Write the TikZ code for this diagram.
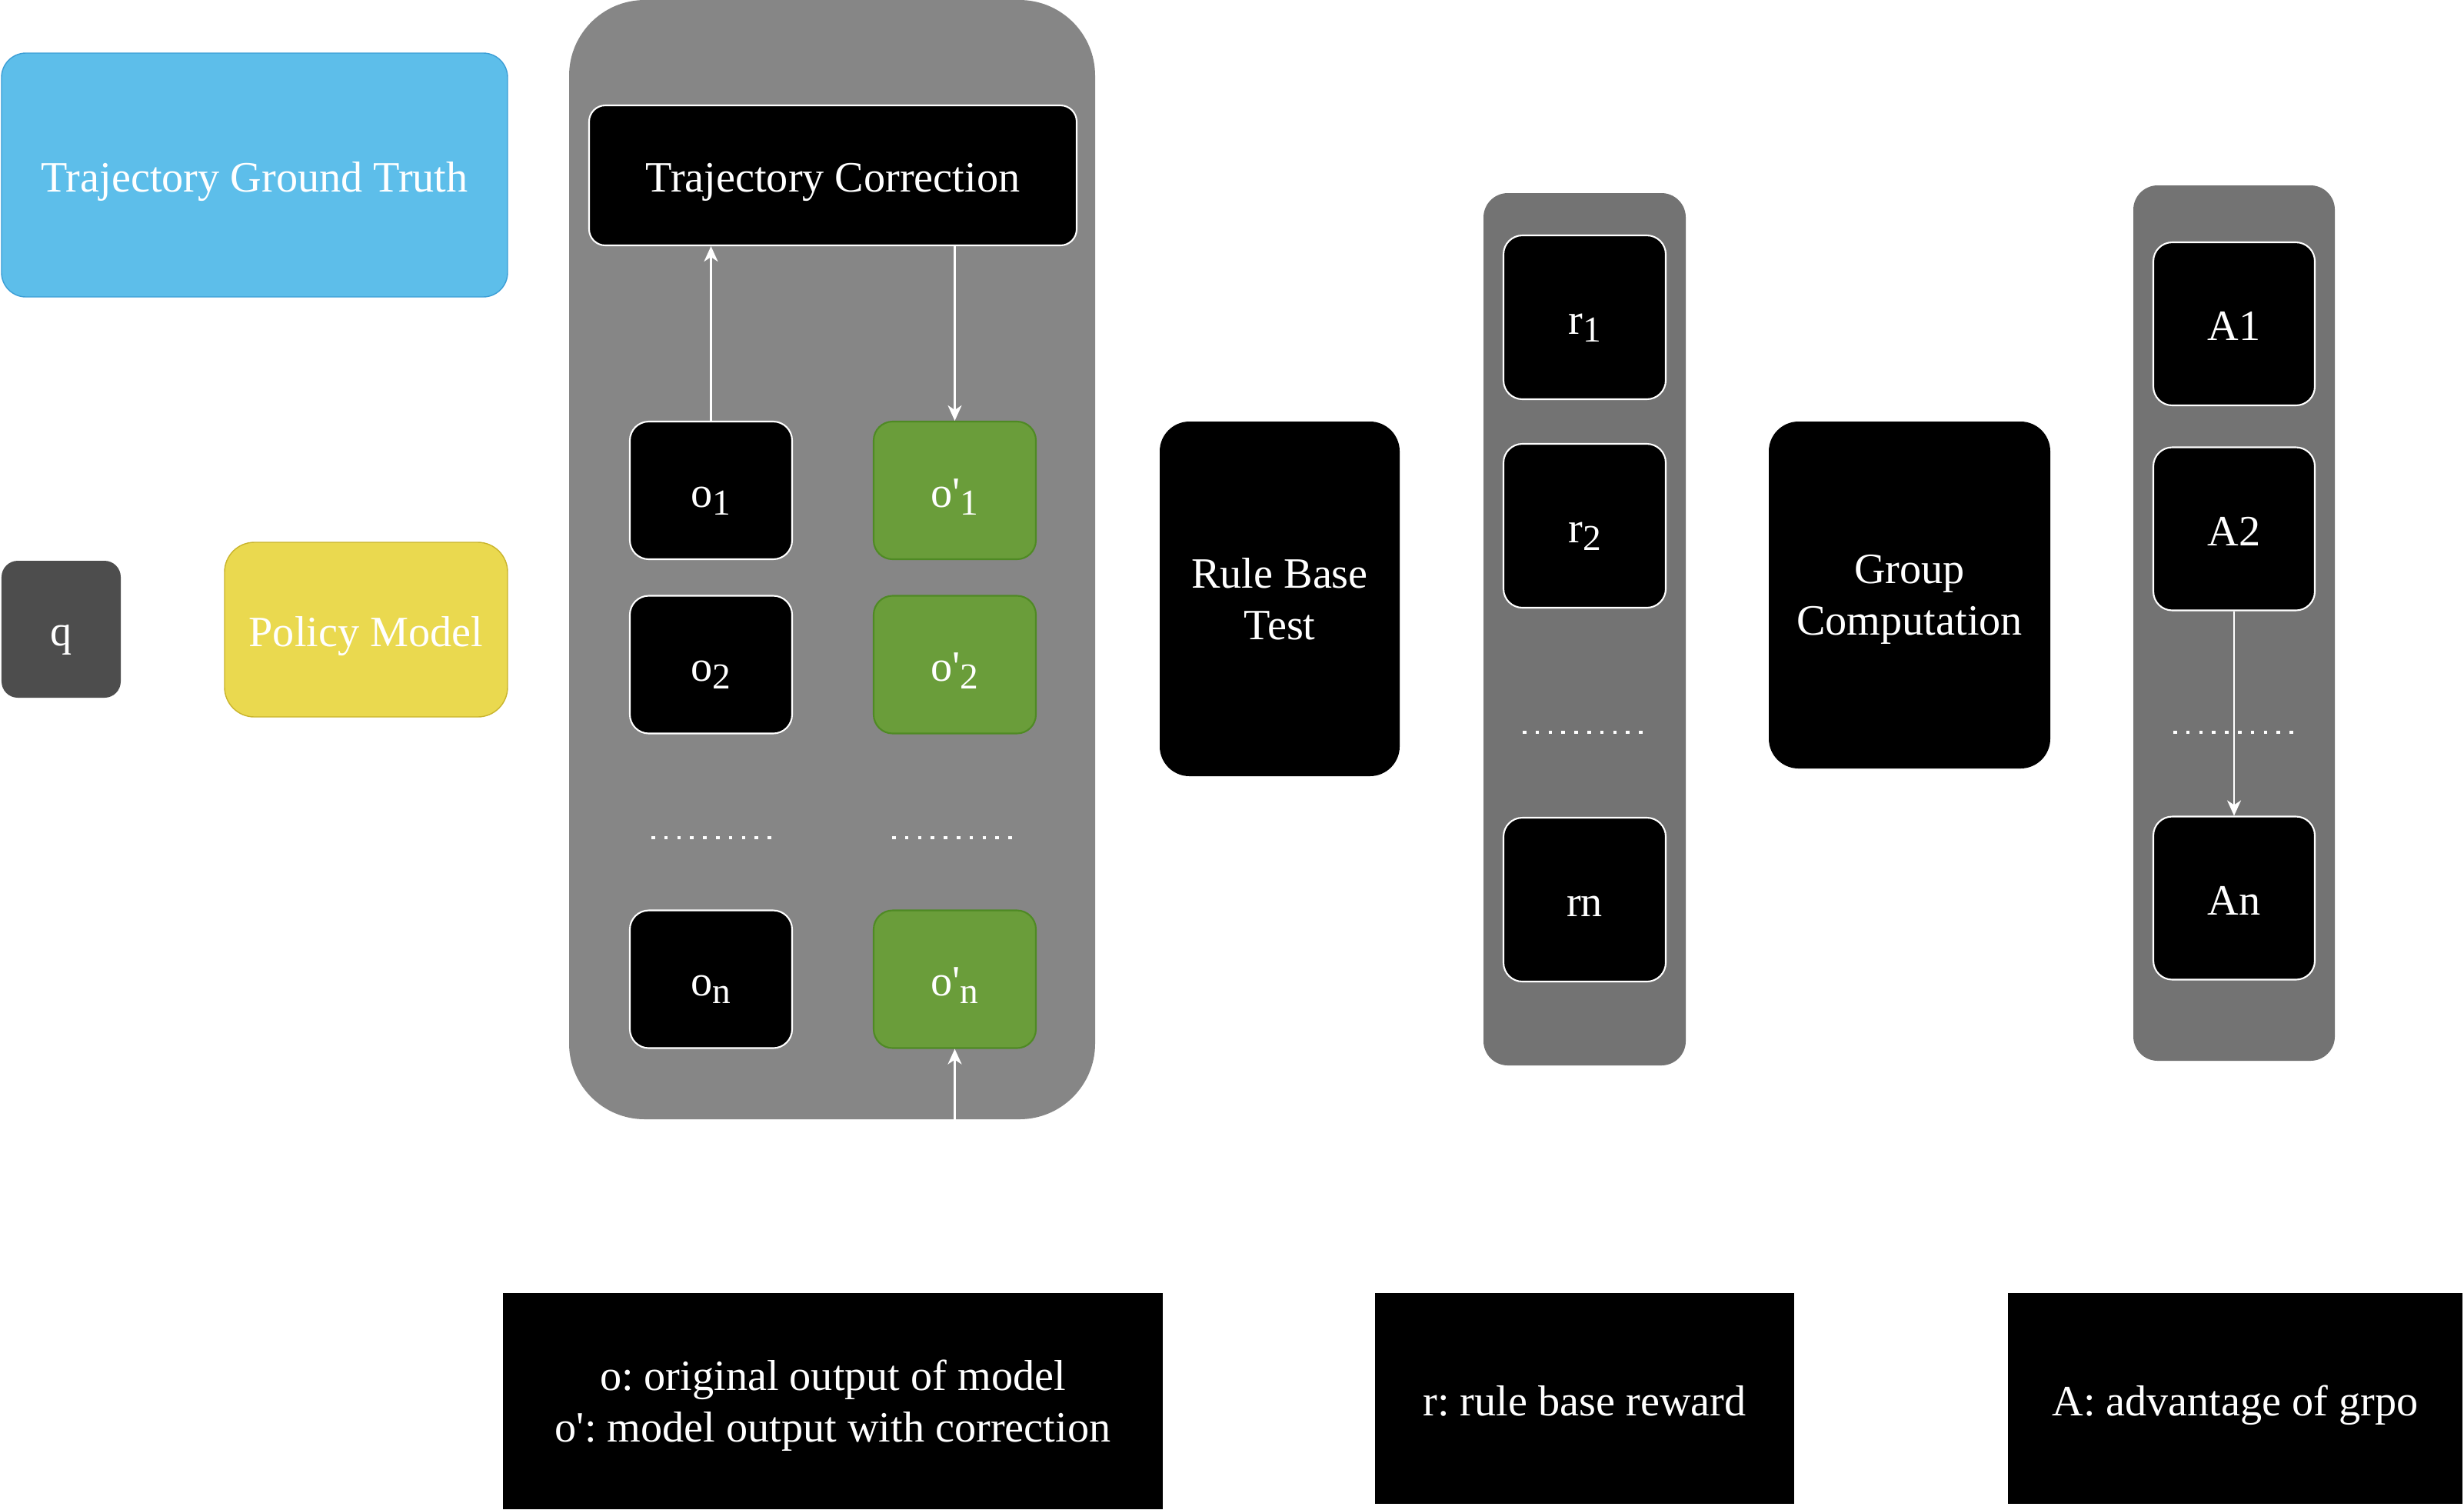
\documentclass[tikz,border=0pt]{standalone}
\usepackage{fontspec}
\setmainfont{Liberation Serif}[Ligatures=TeXOff]
\frenchspacing
\usetikzlibrary{arrows.meta, positioning}
\definecolor{skyfill}{HTML}{5DBEEA}
\definecolor{skyline}{HTML}{3C9ED6}
\definecolor{mustard}{HTML}{EAD94F}
\definecolor{mustardline}{HTML}{C9B42C}
\definecolor{leaf}{HTML}{6A9D3A}
\definecolor{leafline}{HTML}{4F8A24}
\definecolor{panelgrey}{HTML}{868686}
\definecolor{columngrey}{HTML}{737373}
\definecolor{qgrey}{HTML}{4D4D4D}
\newcommand{\subidx}[1]{\raisebox{-0.1cm}{\fontsize{13.5}{16}\selectfont #1}}
\tikzset{
  txt/.style={text=white, align=center, font=\fontsize{16}{19}\selectfont, inner sep=2pt},
  oneline/.style={text height=12.5pt, text depth=0pt},
  twoline/.style={text depth=0pt},
  block/.style={txt, oneline, rectangle, rounded corners=7pt, draw=white, line width=0.6pt, fill=black},
  blockGreen/.style={block, draw=leafline, fill=leaf},
  bigblock/.style={txt, twoline, rectangle, rounded corners=11pt, fill=black},
  panel/.style={rectangle, rounded corners=28pt, fill=panelgrey},
  column/.style={rectangle, rounded corners=9pt, fill=columngrey},
  legend/.style={txt, rectangle, fill=black},
  arrow/.style={-{Stealth[length=2mm, width=1.8mm, inset=0.6mm]}, white, line width=0.7pt},
  dotrow/.style={white, line width=0.035cm, dash pattern=on 0.045cm off 0.123cm},
}

\begin{document}
\begin{tikzpicture}
\useasboundingbox (0,0) rectangle (32.04,-19.62);
% inputs
\node[txt, oneline, rectangle, rounded corners=9pt, draw=skyline, fill=skyfill, minimum width=6.58cm, minimum height=3.17cm] (truth) at (3.31,-2.275) {Trajectory Ground Truth};
\node[txt, oneline, rectangle, rounded corners=6pt, fill=qgrey, minimum width=1.55cm, minimum height=1.78cm] (q) at (0.795,-8.18) {q};
\node[txt, oneline, rectangle, rounded corners=11pt, draw=mustardline, fill=mustard, minimum width=3.68cm, minimum height=2.27cm] (policy) at (4.76,-8.185) {Policy Model};

% outputs and correction
\node[panel, minimum width=6.84cm, minimum height=14.55cm] (panelO) at (10.82,-7.275) {};
\node[block, rounded corners=6pt, minimum width=6.34cm, minimum height=1.82cm] (corr) at (10.83,-2.28) {Trajectory Correction};
\node[block, minimum width=2.11cm, minimum height=1.79cm] (o1) at (9.245,-6.375) {o\subidx{1}};
\node[blockGreen, minimum width=2.11cm, minimum height=1.79cm] (o1p) at (12.415,-6.375) {o'\subidx{1}};
\node[block, minimum width=2.11cm, minimum height=1.79cm] (o2) at (9.245,-8.64) {o\subidx{2}};
\node[blockGreen, minimum width=2.11cm, minimum height=1.79cm] (o2p) at (12.415,-8.64) {o'\subidx{2}};
\node[block, minimum width=2.11cm, minimum height=1.79cm] (on) at (9.245,-12.73) {o\subidx{n}};
\node[blockGreen, minimum width=2.11cm, minimum height=1.79cm] (onp) at (12.415,-12.73) {o'\subidx{n}};
\draw[dotrow] (8.47,-10.89) -- (10.03,-10.89);
\draw[dotrow] (11.60,-10.89) -- (13.16,-10.89);
\draw[arrow] (o1.north) -- (o1.north |- corr.south);
\draw[arrow] (o1p.north |- corr.south) -- (o1p.north);
\draw[arrow] (onp.south |- panelO.south) -- (onp.south);

% rewards
\node[bigblock, minimum width=3.12cm, minimum height=4.61cm] (rule) at (16.64,-7.785) {Rule Base\\Test};
\node[column, minimum width=2.63cm, minimum height=11.34cm] (panelR) at (20.605,-8.18) {};
\node[block, minimum width=2.11cm, minimum height=2.13cm] (r1) at (20.605,-4.125) {r\subidx{1}};
\node[block, minimum width=2.11cm, minimum height=2.13cm] (r2) at (20.605,-6.835) {r\subidx{2}};
\node[block, minimum width=2.11cm, minimum height=2.13cm] (rn) at (20.605,-11.695) {rn};
\draw[dotrow] (19.80,-9.52) -- (21.36,-9.52);

% advantages
\node[bigblock, minimum width=3.66cm, minimum height=4.51cm] (group) at (24.83,-7.735) {Group\\Computation};
\node[column, minimum width=2.62cm, minimum height=11.38cm] (panelA) at (29.05,-8.10) {};
\node[block, minimum width=2.10cm, minimum height=2.12cm] (a1) at (29.05,-4.21) {A1};
\node[block, minimum width=2.10cm, minimum height=2.12cm] (a2) at (29.05,-6.875) {A2};
\node[block, minimum width=2.10cm, minimum height=2.12cm] (an) at (29.05,-11.675) {An};
\draw[dotrow] (28.26,-9.52) -- (29.82,-9.52);
\draw[arrow] (a2.south) -- (an.north);

% legend
\node[legend, twoline, minimum width=8.58cm, minimum height=2.81cm] (legO) at (10.83,-18.215) {o: original output of model\\o': model output with correction};
\node[legend, oneline, minimum width=5.45cm, minimum height=2.74cm] (legR) at (20.605,-18.18) {r: rule base reward};
\node[legend, oneline, minimum width=5.91cm, minimum height=2.74cm] (legA) at (29.065,-18.18) {A: advantage of grpo};
\end{tikzpicture}
\end{document}
